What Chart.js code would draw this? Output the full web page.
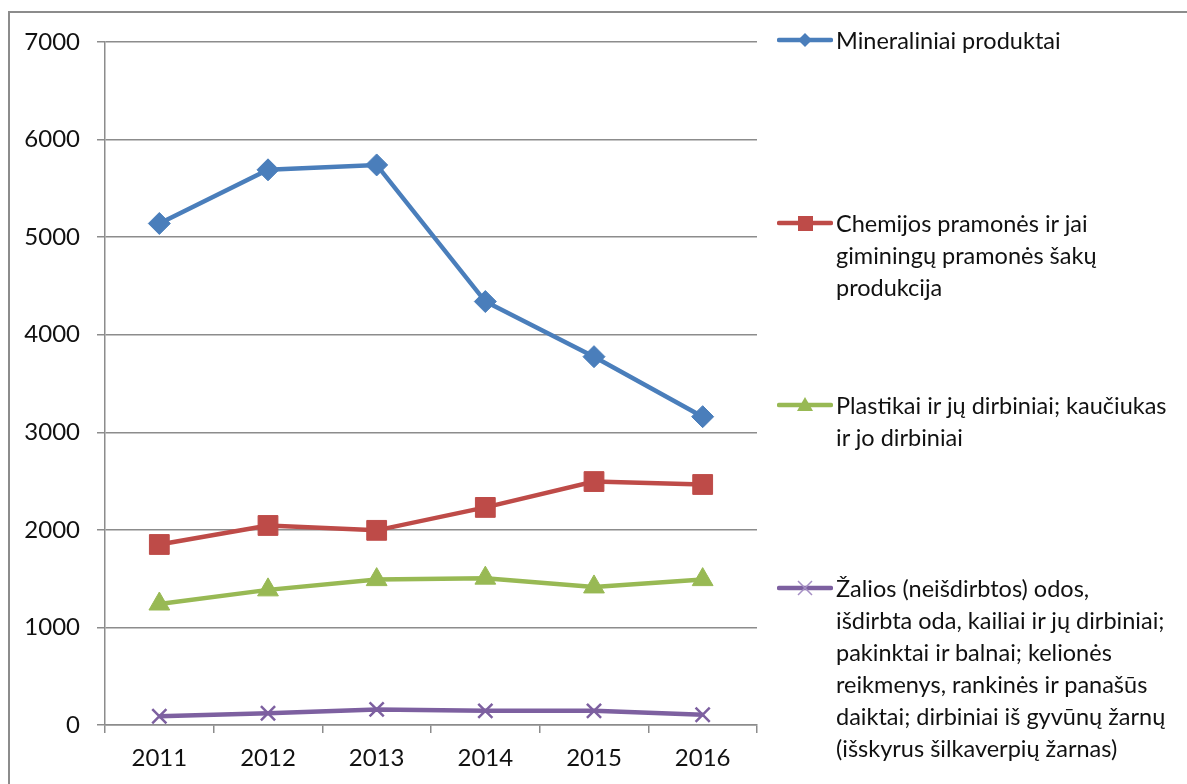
<!DOCTYPE html>
<html>
<head>
<meta charset="utf-8">
<script src="https://cdn.jsdelivr.net/npm/chart.js@4/dist/chart.umd.min.js"></script>
<style>
    html, body { margin: 0; padding: 0; background: #fff; overflow: hidden; }
    #wrap { position: relative; width: 1187px; height: 784px; overflow: hidden; }
    #frame { position: absolute; left: 8px; top: 11px; width: 1300px; height: 900px; border: 2px solid #8c8c8c; box-sizing: border-box; }
    #chart { position: absolute; left: 0; top: 0; }
    #legend { position: absolute; left: 777px; top: 0; font-family: Lato, "Open Sans", sans-serif; font-size: 23.5px; color: #111; }
    .item { position: absolute; left: 0; white-space: nowrap; line-height: 32px; }
    .item svg { position: absolute; left: 0; top: 0; }
    .item .txt { position: absolute; left: 59px; top: 0; }
</style>
</head>
<body>
<div id="wrap">
    <div id="frame"></div>
    <canvas id="chart" width="1187" height="784"></canvas>
    <div id="legend"></div>
</div>
<script>
let years = ['2011', '2012', '2013', '2014', '2015', '2016'];

let mineral = [5140, 5690, 5740, 4340, 3775, 3160];
let chemija = [1850, 2045, 1995, 2230, 2495, 2465];
let plastikai = [1240, 1385, 1490, 1505, 1415, 1490];
let odos = [90, 120, 160, 145, 145, 105];

let mineralName = ['Mineraliniai produktai'];
let chemijaName = ['Chemijos pramonės ir jai', 'giminingų pramonės šakų', 'produkcija'];
let plastikaiName = ['Plastikai ir jų dirbiniai; kaučiukas', 'ir jo dirbiniai'];
let odosName = ['Žalios (neišdirbtos) odos,', 'išdirbta oda, kailiai ir jų dirbiniai;', 'pakinktai ir balnai; kelionės', 'reikmenys, rankinės ir panašūs', 'daiktai; dirbiniai iš gyvūnų žarnų', '(išskyrus šilkaverpių žarnas)'];

let yTicks = [0, 1000, 2000, 3000, 4000, 5000, 6000, 7000];

let gridColor = '#8c8c8c';
let tickFont = { family: 'Lato, "Open Sans", sans-serif', size: 24 };

let datasets = [
    { label: mineralName.join(' '), lines: mineralName, data: mineral, borderColor: '#4a7ebb', backgroundColor: '#4a7ebb',
      pointStyle: 'rectRot', pointRadius: 11, pointBorderWidth: 1 },
    { label: chemijaName.join(' '), lines: chemijaName, data: chemija, borderColor: '#be4b48', backgroundColor: '#be4b48',
      pointStyle: 'rect', pointRadius: 14, pointBorderWidth: 1 },
    { label: plastikaiName.join(' '), lines: plastikaiName, data: plastikai, borderColor: '#98b954', backgroundColor: '#98b954',
      pointStyle: 'triangle', pointRadius: 12, pointBorderWidth: 1 },
    { label: odosName.join(' '), lines: odosName, data: odos, borderColor: '#7d60a0', backgroundColor: '#7d60a0',
      pointStyle: 'crossRot', pointRadius: 10, pointBorderWidth: 2.5 }
];
datasets.forEach(function (d) {
    d.borderWidth = 4.5;
    d.tension = 0;
    d.pointHoverRadius = d.pointRadius;
});

let chart = new Chart(document.getElementById('chart').getContext('2d'), {
    type: 'line',
    data: { labels: years, datasets: datasets },
    options: {
        responsive: false,
        animation: false,
        layout: { padding: { left: 0, right: 430, top: 42, bottom: 0 } },
        plugins: { legend: { display: false }, tooltip: { enabled: false } },
        scales: {
            x: {
                offset: true,
                grid: { offset: true, drawOnChartArea: false, drawTicks: true, tickLength: 8, color: gridColor, lineWidth: 1.5 },
                border: { display: true, color: gridColor, width: 1.5 },
                ticks: { font: tickFont, color: '#111', padding: 11, maxRotation: 0 },
                afterFit: function (scale) { scale.height = 59; }
            },
            y: {
                min: 0,
                max: 7000,
                afterBuildTicks: function (scale) { scale.ticks = yTicks.map(function (v) { return { value: v }; }); },
                grid: { color: gridColor, lineWidth: 1.5, tickLength: 8 },
                border: { display: true, color: gridColor, width: 1.5 },
                ticks: { font: tickFont, color: '#111', padding: 17, callback: function (v) { return v; } },
                afterFit: function (scale) { scale.width = 105; }
            }
        }
    }
});

// legend on the right, built from the datasets
function markerSvg(style, color) {
    let shape = '';
    if (style === 'rectRot') shape = '<polygon points="28,9 35,16 28,23 21,16" fill="' + color + '"/>';
    if (style === 'rect') shape = '<rect x="21" y="9" width="15" height="15" fill="' + color + '"/>';
    if (style === 'triangle') shape = '<polygon points="28,8 36,22 20,22" fill="' + color + '"/>';
    if (style === 'crossRot') shape = '<path d="M21,9 L35,23 M35,9 L21,23" stroke="#a58fc4" stroke-width="1.5"/>';
    return '<svg width="56" height="32" viewBox="0 0 56 32">' +
        '<line x1="2" y1="16" x2="54" y2="16" stroke="' + color + '" stroke-width="4.5" stroke-linecap="round"/>' +
        shape + '</svg>';
}

let legendBox = document.getElementById('legend');
chart.data.datasets.forEach(function (d, i) {
    let item = document.createElement('div');
    item.className = 'item';
    item.style.top = (24 + i * 182.7) + 'px';
    item.innerHTML = markerSvg(d.pointStyle, d.borderColor) + '<div class="txt">' + d.lines.join('<br>') + '</div>';
    legendBox.appendChild(item);
});
</script>
</body>
</html>
